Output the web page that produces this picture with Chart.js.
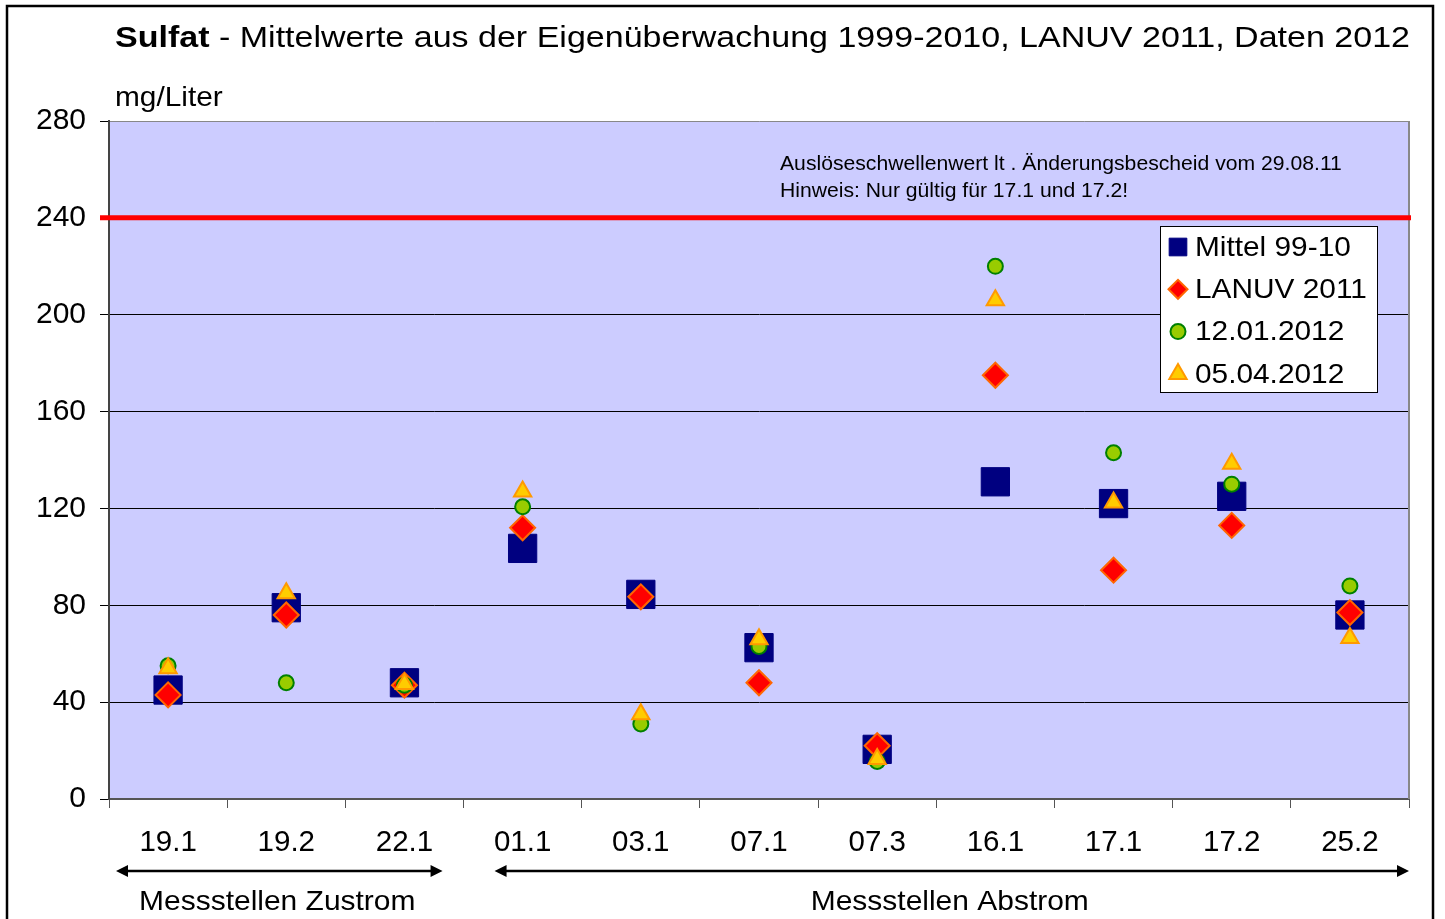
<!DOCTYPE html>
<html>
<head>
<meta charset="utf-8">
<script src="https://cdn.jsdelivr.net/npm/chart.js@4.4.1/dist/chart.umd.min.js"></script>
<style>
  html, body { margin: 0; padding: 0; background: #fff; }
  #wrap { width: 1445px; height: 919px; position: relative; }
</style>
</head>
<body>
<div id="wrap"><canvas id="c"></canvas></div>
<script>
const categories = ['19.1','19.2','22.1','01.1','03.1','07.1','07.3','16.1','17.1','17.2','25.2'];
const mittel9910 = [45, 79, 48, 103.5, 84.5, 62.5, 20.5, 131, 122, 125, 76];
const lanuv2011 = [43, 76, 47, 112, 83.5, 48, 22, 175, 94.5, 113, 77];
const probe120112 = [55, 48, 47, 120.7, 31, 63, 15.5, 220, 143, 130, 88];
const probe050412 = [54, 85, 47.5, 127, 35, 66, 16.5, 206, 122.5, 138.5, 66.5];
const yTicks = [0, 40, 80, 120, 160, 200, 240, 280];
const threshold = 240;
const seriesNames = ['Mittel 99-10', 'LANUV 2011', '12.01.2012', '05.04.2012'];
const titleBold = 'Sulfat';
const titleRest = ' - Mittelwerte aus der Eigenüberwachung 1999-2010, LANUV 2011, Daten 2012';
const unitLabel = 'mg/Liter';
const noteLines = ['Auslöseschwellenwert lt . Änderungsbescheid vom 29.08.11', 'Hinweis: Nur gültig für 17.1 und 17.2!'];
const groupLabels = ['Messstellen Zustrom', 'Messstellen Abstrom'];

const FONT = "'Liberation Sans', Arial, sans-serif";
const SX = 1.065; // horizontal stretch of drawn text

const styles = [
  { pointStyle: 'rect', radius: 20, bg: '#000080', border: '#000080', bw: 1, legendR: 12.5 },
  { pointStyle: 'rectRot', radius: 12.5, bg: '#FF0000', border: '#FF6600', bw: 2, legendR: 9.5 },
  { pointStyle: 'circle', radius: 7.5, bg: '#99CC00', border: '#008000', bw: 2, legendR: 7.5 },
  { pointStyle: 'triangle', radius: 10, bg: '#FFCC00', border: '#FF9900', bw: 2, legendR: 10 }
];
const seriesData = [mittel9910, lanuv2011, probe120112, probe050412];

const datasets = seriesData.map((d, i) => ({
  label: seriesNames[i],
  data: d,
  showLine: false,
  pointStyle: styles[i].pointStyle,
  pointRadius: styles[i].radius,
  pointHoverRadius: styles[i].radius,
  pointBackgroundColor: styles[i].bg,
  pointBorderColor: styles[i].border,
  pointBorderWidth: styles[i].bw,
  pointHoverBorderWidth: styles[i].bw,
  backgroundColor: styles[i].bg,
  borderColor: styles[i].border,
  order: 4 - i
}));

function stretchText(ctx, text, x, y, sx, align) {
  ctx.save();
  const w = ctx.measureText(text).width * sx;
  let left = x;
  if (align === 'center') left = x - w / 2;
  ctx.translate(left, y);
  ctx.scale(sx, 1);
  ctx.textAlign = 'left';
  ctx.fillText(text, 0, 0);
  ctx.restore();
  return w;
}

const decor = {
  id: 'decor',
  beforeDraw(chart) {
    const { ctx, chartArea: a } = chart;
    ctx.save();
    ctx.fillStyle = '#fff';
    ctx.fillRect(0, 0, chart.width, chart.height);
    ctx.fillStyle = '#CCCCFF';
    ctx.fillRect(a.left, a.top, a.right - a.left, a.bottom - a.top);
    ctx.restore();
  },
  beforeDatasetsDraw(chart) {
    const { ctx, chartArea: a, scales } = chart;
    ctx.save();
    ctx.strokeStyle = '#888';
    ctx.lineWidth = 2;
    ctx.beginPath();
    ctx.moveTo(a.right, a.top);
    ctx.lineTo(a.right, a.bottom);
    ctx.stroke();
    const ty = scales.y.getPixelForValue(threshold);
    ctx.strokeStyle = '#FF0000';
    ctx.lineWidth = 5;
    ctx.beginPath();
    ctx.moveTo(a.left - 9, ty);
    ctx.lineTo(a.right + 2, ty);
    ctx.stroke();
    ctx.fillStyle = '#000';
    ctx.font = '20px ' + FONT;
    ctx.textBaseline = 'middle';
    stretchText(ctx, noteLines[0], 780, ty - 53, 1.058, 'left');
    stretchText(ctx, noteLines[1], 780, ty - 26, 1.058, 'left');
    ctx.restore();
  },
  afterDraw(chart) {
    const { ctx, scales } = chart;
    const H = Chart.helpers;
    ctx.save();
    ctx.strokeStyle = '#000';
    ctx.lineWidth = 2.5;
    ctx.strokeRect(7, 6, 1426, 930);
    // title, stretched to reference width
    ctx.fillStyle = '#000';
    ctx.textBaseline = 'alphabetic';
    ctx.font = 'bold 30px ' + FONT;
    const wb = ctx.measureText(titleBold).width;
    ctx.font = '30px ' + FONT;
    const wr = ctx.measureText(titleRest).width;
    const tsx = 1295 / (wb + wr);
    ctx.font = 'bold 30px ' + FONT;
    stretchText(ctx, titleBold, 115, 47, tsx, 'left');
    ctx.font = '30px ' + FONT;
    stretchText(ctx, titleRest, 115 + wb * tsx, 47, tsx, 'left');
    // unit label
    ctx.font = '28px ' + FONT;
    stretchText(ctx, unitLabel, 115, 106, SX, 'left');
    // legend
    const lx = 1160, ly = 226, lw = 217, lh = 166;
    ctx.fillStyle = '#fff';
    ctx.fillRect(lx, ly, lw, lh);
    ctx.strokeStyle = '#000';
    ctx.lineWidth = 1;
    ctx.strokeRect(lx + 0.5, ly + 0.5, lw, lh);
    ctx.font = '28px ' + FONT;
    ctx.textBaseline = 'middle';
    for (let i = 0; i < 4; i++) {
      const cy = ly + 21 + i * 42.3;
      ctx.fillStyle = styles[i].bg;
      ctx.strokeStyle = styles[i].border;
      ctx.lineWidth = styles[i].bw;
      H.drawPoint(ctx, { pointStyle: styles[i].pointStyle, radius: styles[i].legendR, borderWidth: styles[i].bw, rotation: 0 }, lx + 18, cy);
      ctx.fillStyle = '#000';
      stretchText(ctx, seriesNames[i], lx + 35, cy + 1, SX, 'left');
    }
    // group arrows
    const xs = scales.x;
    const catW = (xs.right - xs.left) / categories.length;
    const ay = 871;
    const arrows = [
      [xs.left + 7, xs.left + 3 * catW - 21],
      [xs.left + 3 * catW + 31, xs.right]
    ];
    ctx.strokeStyle = '#000';
    ctx.fillStyle = '#000';
    ctx.lineWidth = 2.5;
    arrows.forEach(([x1, x2], k) => {
      ctx.beginPath();
      ctx.moveTo(x1 + 6, ay);
      ctx.lineTo(x2 - 6, ay);
      ctx.stroke();
      ctx.beginPath();
      ctx.moveTo(x1, ay); ctx.lineTo(x1 + 12, ay - 6); ctx.lineTo(x1 + 12, ay + 6); ctx.closePath(); ctx.fill();
      ctx.beginPath();
      ctx.moveTo(x2, ay); ctx.lineTo(x2 - 12, ay - 6); ctx.lineTo(x2 - 12, ay + 6); ctx.closePath(); ctx.fill();
      ctx.font = '28px ' + FONT;
      ctx.textBaseline = 'middle';
      stretchText(ctx, groupLabels[k], (x1 + x2) / 2 - 2, 902, 1.07, 'center');
    });
    ctx.restore();
  }
};

new Chart(document.getElementById('c'), {
  type: 'line',
  data: { labels: categories, datasets },
  options: {
    responsive: true,
    maintainAspectRatio: false,
    animation: false,
    devicePixelRatio: 1,
    layout: { padding: { left: 0, top: 121, right: 36, bottom: 0 } },
    plugins: { legend: { display: false }, tooltip: { enabled: false }, title: { display: false } },
    events: [],
    scales: {
      x: {
        type: 'category',
        offset: true,
        afterFit(s) { s.height = 120; },
        grid: { display: true, drawOnChartArea: false, drawTicks: true, tickLength: 9, tickColor: '#555', offset: true },
        border: { display: true, color: '#555', width: 2 },
        ticks: { color: '#000', font: { family: FONT, size: 29.5 }, padding: 17, maxRotation: 0, autoSkip: false }
      },
      y: {
        min: 0, max: 280,
        afterFit(s) { s.width = 109; },
        afterBuildTicks(s) { s.ticks = yTicks.map(v => ({ value: v })); },
        grid: {
          color: (c) => (c.tick && c.tick.value === 280) ? '#888' : '#000',
          lineWidth: 1, tickLength: 9, tickColor: '#000', drawTicks: true
        },
        border: { display: true, color: '#444', width: 2 },
        ticks: { color: '#000', font: { family: FONT, size: 30 }, padding: 14, stepSize: 40 }
      }
    }
  },
  plugins: [decor]
});
</script>
</body>
</html>
